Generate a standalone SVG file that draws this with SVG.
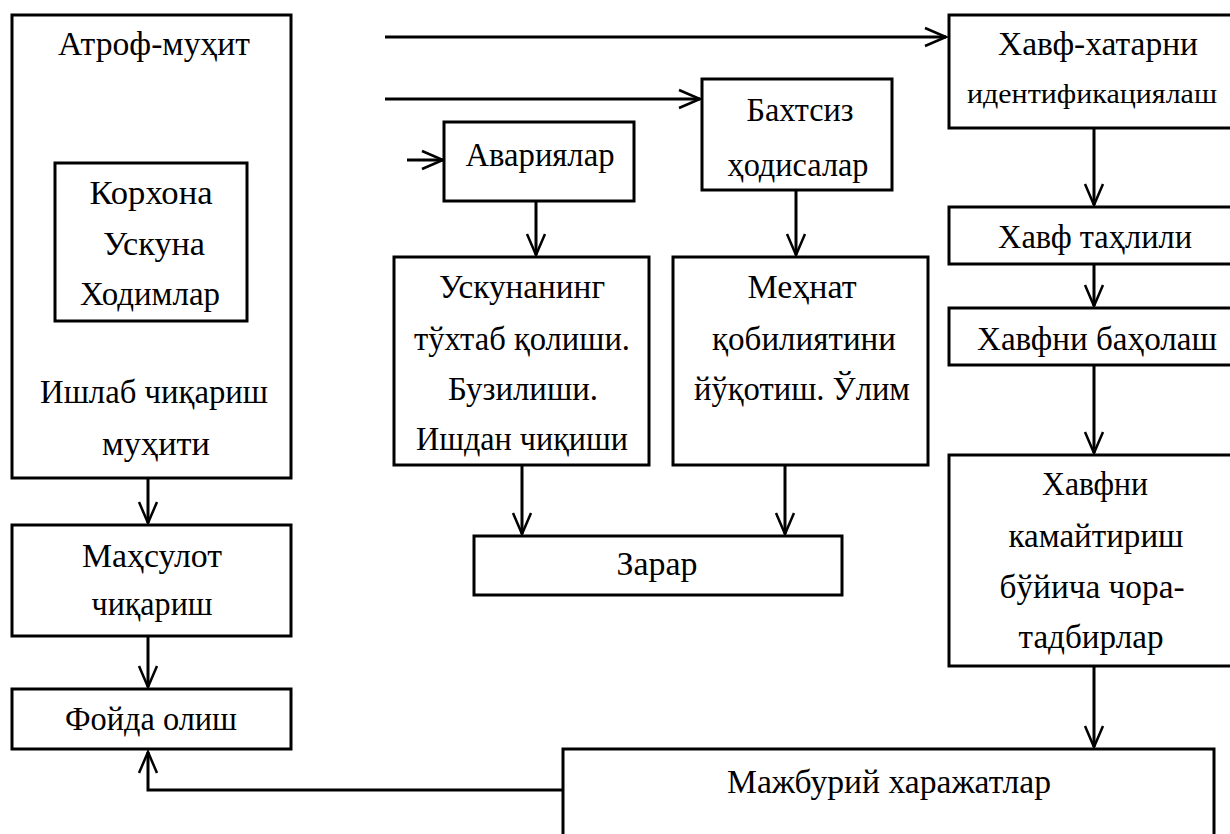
<svg xmlns="http://www.w3.org/2000/svg" width="1230" height="834" viewBox="0 0 1230 834">
<style>
.box{fill:#fff;stroke:#000;stroke-width:3}
.t{font-family:"Liberation Serif","DejaVu Serif",serif;font-size:33px;fill:#000;text-anchor:middle}
.c{fill:none;stroke:#000;stroke-width:3}
</style>
<defs>
<marker id="ah" markerUnits="userSpaceOnUse" markerWidth="30" markerHeight="30" viewBox="-25 -15 30 30" refX="0" refY="0" orient="auto">
<path d="M-21,-9 L0,0 L-21,9" fill="none" stroke="#000" stroke-width="2.5"/>
</marker>
</defs>
<rect width="1230" height="834" fill="#fff"/>
<g id="connectors">
<path class="c" d="M385,37 H946" marker-end="url(#ah)"/>
<path class="c" d="M385,99 H700" marker-end="url(#ah)"/>
<path class="c" d="M407,160 H443" marker-end="url(#ah)"/>
<path class="c" d="M536,201 V255" marker-end="url(#ah)"/>
<path class="c" d="M796,190 V255" marker-end="url(#ah)"/>
<path class="c" d="M522,466 V534" marker-end="url(#ah)"/>
<path class="c" d="M785,466 V534" marker-end="url(#ah)"/>
<path class="c" d="M148,478 V523" marker-end="url(#ah)"/>
<path class="c" d="M148,636 V687" marker-end="url(#ah)"/>
<path class="c" d="M563,790 H148 V752" marker-end="url(#ah)"/>
<path class="c" d="M1094,128 V205" marker-end="url(#ah)"/>
<path class="c" d="M1094,264 V306" marker-end="url(#ah)"/>
<path class="c" d="M1094,365 V453" marker-end="url(#ah)"/>
<path class="c" d="M1094,666 V747" marker-end="url(#ah)"/>
</g>
<g id="n-atrof">
<rect class="box" x="12" y="15" width="279" height="463"/>
<text class="t" x="154" y="55" textLength="192" lengthAdjust="spacingAndGlyphs">Атроф-муҳит</text>
<text class="t" x="154" y="403" textLength="228" lengthAdjust="spacingAndGlyphs">Ишлаб чиқариш</text>
<text class="t" x="156" y="455" textLength="108" lengthAdjust="spacingAndGlyphs">муҳити</text>
</g>
<g id="n-korxona">
<rect class="box" x="55" y="163" width="192" height="158"/>
<text class="t" x="151" y="204" textLength="123" lengthAdjust="spacingAndGlyphs">Корхона</text>
<text class="t" x="154" y="255" textLength="102" lengthAdjust="spacingAndGlyphs">Ускуна</text>
<text class="t" x="150" y="305" textLength="140" lengthAdjust="spacingAndGlyphs">Ходимлар</text>
</g>
<g id="n-mahsulot">
<rect class="box" x="12" y="525" width="279" height="111"/>
<text class="t" x="152" y="567" textLength="140" lengthAdjust="spacingAndGlyphs">Маҳсулот</text>
<text class="t" x="152" y="615" textLength="121" lengthAdjust="spacingAndGlyphs">чиқариш</text>
</g>
<g id="n-foyda">
<rect class="box" x="12" y="689" width="279" height="60"/>
<text class="t" x="151" y="730" textLength="172" lengthAdjust="spacingAndGlyphs">Фойда олиш</text>
</g>
<g id="n-avariya">
<rect class="box" x="444" y="122" width="190" height="79"/>
<text class="t" x="540" y="166" textLength="149" lengthAdjust="spacingAndGlyphs">Авариялар</text>
</g>
<g id="n-baxtsiz">
<rect class="box" x="702" y="79" width="190" height="111"/>
<text class="t" x="800" y="121" textLength="107" lengthAdjust="spacingAndGlyphs">Бахтсиз</text>
<text class="t" x="798" y="176" textLength="141" lengthAdjust="spacingAndGlyphs">ҳодисалар</text>
</g>
<g id="n-uskuna">
<rect class="box" x="394" y="257" width="255" height="208"/>
<text class="t" x="522" y="298" textLength="166" lengthAdjust="spacingAndGlyphs">Ускунанинг</text>
<text class="t" x="522" y="350" textLength="216" lengthAdjust="spacingAndGlyphs">тўхтаб қолиши.</text>
<text class="t" x="523" y="400" textLength="150" lengthAdjust="spacingAndGlyphs">Бузилиши.</text>
<text class="t" x="522" y="450" textLength="212" lengthAdjust="spacingAndGlyphs">Ишдан чиқиши</text>
</g>
<g id="n-mehnat">
<rect class="box" x="673" y="257" width="255" height="208"/>
<text class="t" x="802" y="298" textLength="109" lengthAdjust="spacingAndGlyphs">Меҳнат</text>
<text class="t" x="804" y="350" textLength="184" lengthAdjust="spacingAndGlyphs">қобилиятини</text>
<text class="t" x="802" y="400" textLength="216" lengthAdjust="spacingAndGlyphs">йўқотиш. Ўлим</text>
</g>
<g id="n-zarar">
<rect class="box" x="474" y="536" width="368" height="59"/>
<text class="t" x="657" y="575" textLength="81" lengthAdjust="spacingAndGlyphs">Зарар</text>
</g>
<g id="n-identifikatsiya">
<rect class="box" x="949" y="15" width="300" height="113"/>
<text class="t" x="1092" y="103" style="font-size:28px" textLength="250" lengthAdjust="spacingAndGlyphs">идентификациялаш</text>
<text class="t" x="1098" y="55" textLength="200" lengthAdjust="spacingAndGlyphs">Хавф-хатарни</text>
</g>
<g id="n-tahlil">
<rect class="box" x="949" y="207" width="300" height="57"/>
<text class="t" x="1095" y="248" textLength="194" lengthAdjust="spacingAndGlyphs">Хавф таҳлили</text>
</g>
<g id="n-baholash">
<rect class="box" x="949" y="308" width="300" height="57"/>
<text class="t" x="1097" y="350" textLength="240" lengthAdjust="spacingAndGlyphs">Хавфни баҳолаш</text>
</g>
<g id="n-kamaytirish">
<rect class="box" x="949" y="455" width="300" height="211"/>
<text class="t" x="1095" y="495" textLength="106" lengthAdjust="spacingAndGlyphs">Хавфни</text>
<text class="t" x="1096" y="547" textLength="175" lengthAdjust="spacingAndGlyphs">камайтириш</text>
<text class="t" x="1092" y="598" textLength="185" lengthAdjust="spacingAndGlyphs">бўйича чора-</text>
<text class="t" x="1091" y="648" textLength="145" lengthAdjust="spacingAndGlyphs">тадбирлар</text>
</g>
<g id="n-majburiy">
<rect class="box" x="563" y="749" width="651" height="100"/>
<text class="t" x="889" y="793" textLength="324" lengthAdjust="spacingAndGlyphs">Мажбурий харажатлар</text>
</g>
</svg>
